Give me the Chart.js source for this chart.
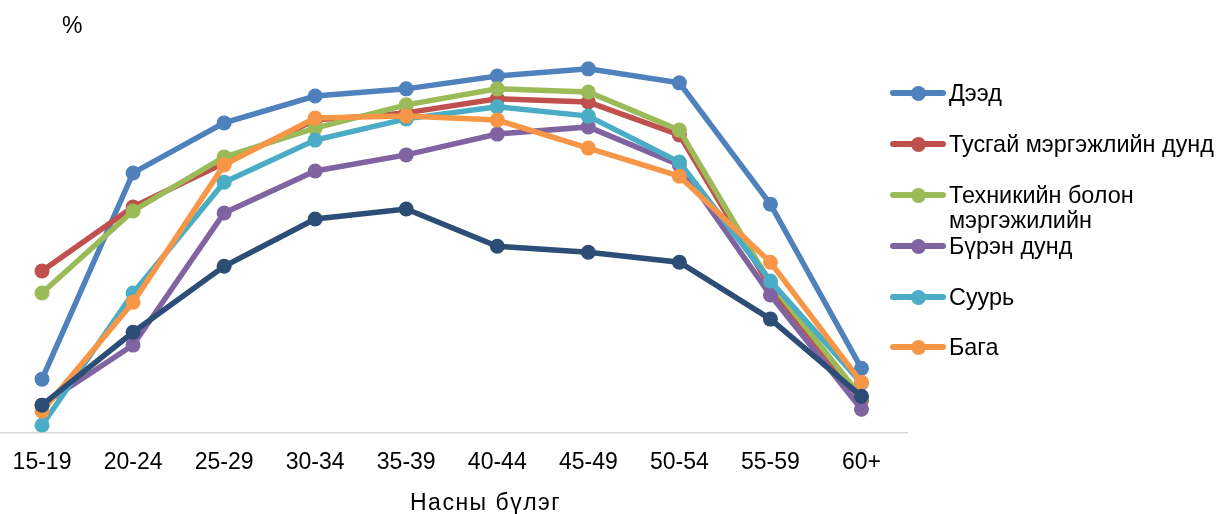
<!DOCTYPE html>
<html>
<head>
<meta charset="utf-8">
<script src="https://cdn.jsdelivr.net/npm/chart.js@4.4.1/dist/chart.umd.min.js"></script>
<style>
  body { margin:0; background:#fff; font-family:"Liberation Sans", Arial, sans-serif; }
  #wrap { position:relative; width:1228px; height:514px; overflow:hidden; }
  #myChart { position:absolute; left:-11px; top:0; }
  .unit { position:absolute; left:62px; top:12px; font-size:23px; color:#000; }
  .xtitle { position:absolute; left:410px; top:489px; font-size:23px; letter-spacing:1.5px; color:#000; white-space:nowrap; }
  .legend { position:absolute; left:890px; top:0; }
  .item { position:absolute; left:0; width:340px; font-size:23.4px; line-height:25px; color:#000; }
  .item .bar { position:absolute; left:0; width:56px; height:6px; border-radius:3px; }
  .item .dot { position:absolute; left:20.5px; width:15px; height:15px; border-radius:50%; }
  .item .txt { position:absolute; left:59px; top:0; white-space:nowrap; }
</style>
</head>
<body>
<div id="wrap">
  <canvas id="myChart" width="1232" height="514"></canvas>
  <div class="unit">%</div>
  <div class="xtitle">Насны бүлэг</div>
  <div class="legend" id="legend"></div>
</div>
<script>
const ageGroups = ['15-19','20-24','25-29','30-34','35-39','40-44','45-49','50-54','55-59','60+'];

const deed      = [13.3, 64.8, 77.3, 84.0, 85.8, 89.0, 90.8, 87.3, 57.0, 16.0];
const tusgai    = [40.3, 56.3, 67.3, 78.0, 79.8, 83.3, 82.5, 74.3, 36.3, 8.0];
const tekhnik   = [34.8, 55.3, 68.8, 76.0, 81.8, 85.8, 85.0, 75.5, 37.3, 8.8];
const buren     = [6.8, 21.8, 54.8, 65.3, 69.3, 74.5, 76.3, 66.8, 34.3, 5.8];
const suuri     = [1.8, 34.8, 62.5, 73.0, 78.3, 81.3, 79.0, 67.5, 37.8, 12.3];
const baga      = [5.3, 32.5, 66.8, 78.5, 79.0, 78.0, 71.0, 64.0, 42.5, 12.5];
const bolovsrolgui = [6.8, 25.0, 41.5, 53.3, 55.8, 46.5, 45.0, 42.5, 28.3, 9.0];

const seriesNames = ['Дээд', 'Тусгай мэргэжлийн дунд', 'Техникийн болон мэргэжилийн', 'Бүрэн дунд', 'Суурь', 'Бага', 'Боловсролгүй'];
const seriesData = [deed, tusgai, tekhnik, buren, suuri, baga, bolovsrolgui];
const seriesColors = ['#4F81BD', '#C0504D', '#9BBB59', '#8064A2', '#4BACC6', '#F79646', '#2C4D75'];
const inLegend = [true, true, true, true, true, true, false];

function renderLineChart(labels, element){
    const datasets = seriesData.map(function(d, i){
        return {
            label: seriesNames[i],
            data: d,
            borderColor: seriesColors[i],
            backgroundColor: seriesColors[i],
            borderWidth: 5.5,
            pointRadius: 7.5,
            pointHoverRadius: 7.5,
            pointBorderWidth: 0,
            tension: 0,
            order: seriesData.length - i
        };
    });

    return new Chart(document.getElementById(element), {
        type: 'line',
        data: { labels: labels, datasets: datasets },
        options: {
            responsive: false,
            animation: false,
            layout: { padding: { left: 0, right: 314, top: 40, bottom: 22 } },
            plugins: { legend: { display: false }, tooltip: { enabled: false } },
            scales: {
                x: {
                    offset: true,
                    grid: { display: false, drawTicks: false },
                    border: { display: true, color: '#D9D9D9', width: 1.5 },
                    ticks: { color: '#000', padding: 16, font: { family: 'Liberation Sans', size: 23 } }
                },
                y: { display: false, min: 0, max: 98 }
            }
        }
    });
}

function renderLegend(container){
    const rows = [93, 144, 195, 246, 297, 347];
    let html = '';
    let r = 0;
    seriesNames.forEach(function(name, i){
        if (!inLegend[i]) return;
        const cy = rows[r++];
        let text = name;
        if (name === 'Техникийн болон мэргэжилийн') text = 'Техникийн болон<br>мэргэжилийн';
        html += `<div class="item" style="top:${cy - 12.5}px">` +
                `<div class="bar" style="top:9.5px;background:${seriesColors[i]}"></div>` +
                `<div class="dot" style="top:5px;background:${seriesColors[i]}"></div>` +
                `<div class="txt">${text}</div></div>`;
    });
    document.getElementById(container).innerHTML = html;
}

renderLineChart(ageGroups, 'myChart');
renderLegend('legend');
</script>
</body>
</html>
